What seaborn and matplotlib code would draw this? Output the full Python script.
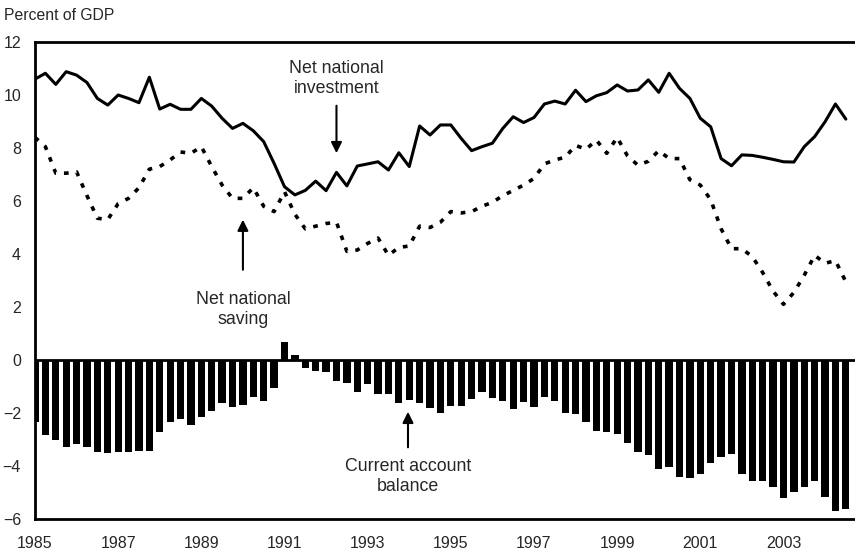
import numpy as np
import pandas as pd
import matplotlib
matplotlib.use('Agg')
import matplotlib.pyplot as plt
import seaborn as sns

# quarterly series, 1985Q1 .. 2004Q3, percent of GDP
investment = [10.6, 10.82, 10.4, 10.88, 10.75, 10.47, 9.87, 9.62, 10.0, 9.87,
              9.71, 10.67, 9.47, 9.65, 9.46, 9.46, 9.87, 9.58, 9.12, 8.74,
              8.93, 8.65, 8.24, 7.42, 6.54, 6.23, 6.4, 6.75, 6.39, 7.08,
              6.57, 7.32, 7.4, 7.48, 7.17, 7.82, 7.3, 8.83, 8.49, 8.87,
              8.87, 8.36, 7.9, 8.05, 8.18, 8.74, 9.18, 8.96, 9.15, 9.66,
              9.77, 9.66, 10.18, 9.75, 9.97, 10.09, 10.38, 10.15, 10.19, 10.57,
              10.1, 10.82, 10.25, 9.87, 9.12, 8.8, 7.6, 7.33, 7.74, 7.72,
              7.65, 7.57, 7.48, 7.47, 8.05, 8.43, 8.99, 9.66, 9.09]

saving = [8.4, 8.05, 7.05, 7.05, 7.1, 6.2, 5.35, 5.3, 5.9, 6.1,
          6.5, 7.2, 7.3, 7.55, 7.85, 7.8, 8.05, 7.3, 6.6, 6.1,
          6.1, 6.5, 5.8, 5.6, 6.35, 5.5, 4.95, 5.05, 5.15, 5.2,
          4.1, 4.15, 4.4, 4.6, 3.95, 4.25, 4.3, 5.05, 5.0, 5.2,
          5.6, 5.55, 5.6, 5.8, 5.95, 6.2, 6.4, 6.6, 6.85, 7.4,
          7.55, 7.65, 8.1, 7.95, 8.3, 7.8, 8.4, 7.7, 7.35, 7.5,
          7.9, 7.6, 7.6, 6.8, 6.6, 6.05, 4.95, 4.2, 4.2, 3.9,
          3.3, 2.6, 2.1, 2.55, 3.2, 3.95, 3.65, 3.75, 2.95]

current_account = [-2.33, -2.83, -3.0, -3.27, -3.18, -3.3, -3.46, -3.5, -3.47, -3.47,
                   -3.43, -3.43, -2.72, -2.33, -2.23, -2.45, -2.16, -1.91, -1.64, -1.76,
                   -1.7, -1.41, -1.55, -1.04, 0.69, 0.19, -0.31, -0.4, -0.44, -0.78,
                   -0.86, -1.19, -0.92, -1.28, -1.28, -1.64, -1.51, -1.64, -1.8, -2.01,
                   -1.72, -1.74, -1.47, -1.22, -1.45, -1.55, -1.85, -1.57, -1.79, -1.38,
                   -1.55, -2.01, -2.04, -2.35, -2.67, -2.7, -2.8, -3.12, -3.47, -3.58,
                   -4.12, -4.05, -4.4, -4.44, -4.32, -3.9, -3.67, -3.55, -4.32, -4.55,
                   -4.55, -4.81, -5.19, -4.97, -4.78, -4.55, -5.16, -5.69, -5.62]

year_ticks = [1985, 1987, 1989, 1991, 1993, 1995, 1997, 1999, 2001, 2003]

periods = pd.period_range('1985Q1', periods=len(investment), freq='Q')
df = pd.DataFrame({
    'date': periods.year + (periods.quarter - 1) / 4,
    'investment': investment,
    'saving': saving,
    'current_account': current_account,
})

sns.set_style('white')
plt.rcParams['font.family'] = ['Liberation Sans', 'DejaVu Sans']

fig = plt.figure(figsize=(8.55, 5.52), dpi=100)
ax = fig.add_axes([35 / 855, 1 - 519 / 552, 1 - 35 / 855, (519 - 42) / 552])

ax.bar(df['date'], df['current_account'], width=0.175, color='black', linewidth=0)
sns.lineplot(x='date', y='investment', data=df, ax=ax, color='black', linewidth=2.2)
sns.lineplot(x='date', y='saving', data=df, ax=ax, color='black', linewidth=2.6,
             linestyle=(0, (1.3, 2.2)))
ax.axhline(0, color='black', linewidth=2)

ax.set_xlim(1985, 2004.72)
ax.set_ylim(-6, 12)
ax.set_yticks(range(-6, 13, 2))
ax.set_xticks(year_ticks)
ax.set_xticklabels([str(y) for y in year_ticks])
ax.set_xlabel('')
ax.set_ylabel('')
ax.tick_params(axis='x', direction='in', length=6, width=1.5, pad=12, labelsize=11.5)
ax.tick_params(axis='y', direction='in', length=4, width=1.5, pad=10, labelsize=11.5)

for side in ['left', 'top', 'bottom']:
    ax.spines[side].set_linewidth(2)
    ax.spines[side].set_color('black')
ax.spines['right'].set_visible(False)

fig.text(4 / 855, 1 - 15 / 552, 'Percent of GDP', fontsize=11.3, va='center', ha='left')

arrow = dict(arrowstyle='-|>', color='black', lw=1.5, mutation_scale=16)
ax.text(1992.25, 10.62, 'Net national\ninvestment', ha='center', va='center', fontsize=12.8,
        linespacing=1.2)
ax.annotate('', xy=(1992.25, 7.7), xytext=(1992.25, 9.7), arrowprops=arrow)

ax.text(1990.0, 1.9, 'Net national\nsaving', ha='center', va='center', fontsize=12.8,
        linespacing=1.2)
ax.annotate('', xy=(1990.0, 5.4), xytext=(1990.0, 3.3), arrowprops=arrow)

ax.text(1993.97, -4.4, 'Current account\nbalance', ha='center', va='center', fontsize=12.8,
        linespacing=1.2)
ax.annotate('', xy=(1993.97, -1.85), xytext=(1993.97, -3.4), arrowprops=arrow)

fig.savefig('out.png', dpi=100)
